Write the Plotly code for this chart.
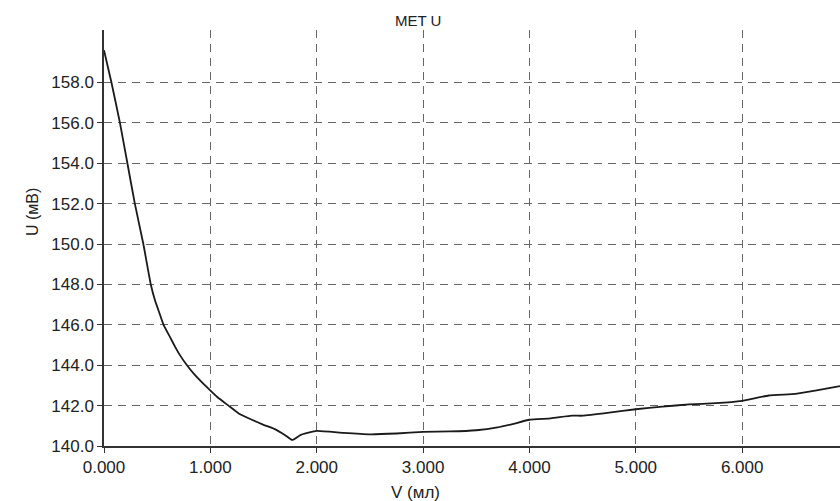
import plotly.graph_objects as go

# Data
volume_ml = [0.0, 0.07, 0.15, 0.22, 0.29, 0.37, 0.44, 0.48, 0.52, 0.56, 0.62,
             0.67, 0.72, 0.78, 0.85, 0.97, 1.07, 1.17, 1.27, 1.39, 1.5, 1.6,
             1.7, 1.77, 1.85, 2.0, 2.25, 2.5, 2.75, 3.0, 3.25, 3.5, 3.7, 3.85,
             4.0, 4.2, 4.4, 4.5, 4.75, 5.0, 5.25, 5.5, 5.75, 6.0, 6.25, 6.5,
             6.7, 6.92]
voltage_mv = [159.6, 158.0, 156.0, 154.0, 152.0, 150.0, 148.0, 147.2, 146.6,
              146.0, 145.4, 144.9, 144.45, 144.0, 143.55, 142.9, 142.4, 142.0,
              141.6, 141.3, 141.05, 140.85, 140.55, 140.3, 140.55, 140.75,
              140.65, 140.58, 140.62, 140.7, 140.72, 140.78, 140.92, 141.1,
              141.3, 141.37, 141.5, 141.5, 141.65, 141.82, 141.95, 142.06,
              142.12, 142.24, 142.5, 142.58, 142.75, 142.97]

x_ticks = [0, 1, 2, 3, 4, 5, 6]
y_ticks = [140, 142, 144, 146, 148, 150, 152, 154, 156, 158]

title_text = "MET U"
x_title = "V (мл)"
y_title = "U (мВ)"

FONT = "Liberation Sans, Arial, sans-serif"
INK = "#222222"

fig = go.Figure()
fig.add_trace(go.Scatter(
    x=volume_ml, y=voltage_mv, mode="lines",
    line=dict(color="#1a1a1a", width=1.8, shape="spline", smoothing=0.35),
    showlegend=False, hoverinfo="skip",
))

fig.update_layout(
    width=840, height=501,
    margin=dict(l=104, r=0, t=30, b=55),
    paper_bgcolor="white", plot_bgcolor="white",
    font=dict(family=FONT, color=INK, size=17),
    showlegend=False,
)

fig.update_xaxes(
    range=[0, 6.92], tickvals=x_ticks, tickformat=".3f",
    showgrid=True, gridcolor="#666666", gridwidth=1, griddash="8px,6px",
    showline=True, linecolor="#333333", linewidth=1.5,
    ticks="outside", ticklen=5, tickcolor="#333333",
    zeroline=False, tickfont=dict(size=17, family=FONT, color=INK),
)
fig.update_yaxes(
    range=[140, 160.6], tickvals=y_ticks, tickformat=".1f",
    showgrid=True, gridcolor="#666666", gridwidth=1, griddash="8px,6px",
    showline=True, linecolor="#333333", linewidth=1.5,
    ticks="outside", ticklen=5, tickcolor="#333333",
    zeroline=False, tickfont=dict(size=17, family=FONT, color=INK),
)

fig.add_annotation(text=title_text, xref="paper", yref="paper",
                   x=(418 - 104) / 736, y=1 + (30 - 21) / 416,
                   showarrow=False, xanchor="center", yanchor="middle",
                   font=dict(size=15, family=FONT, color=INK))
fig.add_annotation(text=x_title, xref="paper", yref="paper",
                   x=(415 - 104) / 736, y=-(492 - 446) / 416,
                   showarrow=False, xanchor="center", yanchor="middle",
                   font=dict(size=17, family=FONT, color=INK))
fig.add_annotation(text=y_title, xref="paper", yref="paper",
                   x=-(104 - 32) / 736, y=(446 - 212) / 416,
                   showarrow=False, xanchor="center", yanchor="middle",
                   textangle=-90,
                   font=dict(size=16, family=FONT, color=INK))

fig.write_html("out.html")
